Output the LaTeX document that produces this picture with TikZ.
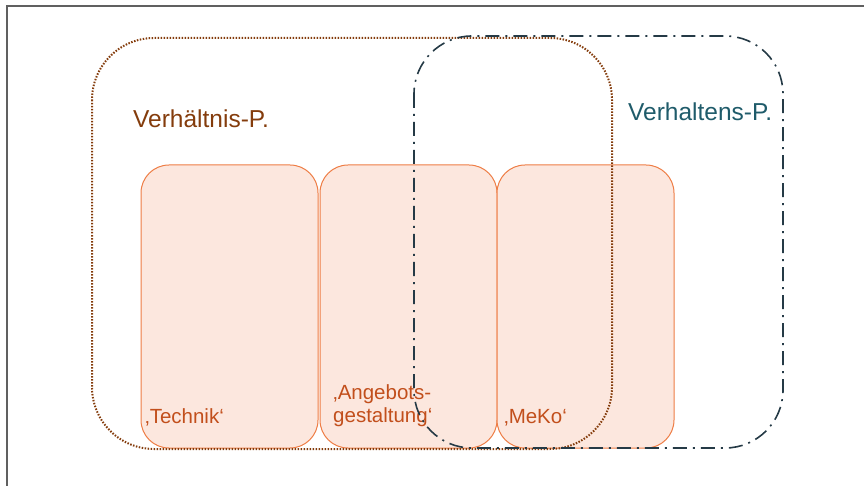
\documentclass[tikz,border=0pt]{standalone}
\usepackage{fontspec}
\setmainfont{Liberation Sans}
\usepackage{xcolor}
\usetikzlibrary{positioning}

\definecolor{rahmengrau}{HTML}{606060}
\definecolor{braun}{HTML}{843C0C}
\definecolor{petrol}{HTML}{1F5B6A}
\definecolor{schiefer}{HTML}{253A46}
\definecolor{hellorange}{HTML}{FCE7DE}
\definecolor{orangerand}{HTML}{EE7D45}
\definecolor{orangetext}{HTML}{C24F1C}

\tikzset{
	feld/.style={draw=orangerand, fill=hellorange, line width=1, rounded corners=28,
		minimum width=177, minimum height=283, inner sep=0},
	feldlabel/.style={text=orangetext, font=\fontsize{20.5}{23}\selectfont,
		inner sep=0, anchor=base west, align=left},
	titel/.style={font=\fontsize{24.5}{28}\selectfont, inner sep=0, anchor=base west}
}

\begin{document}
\begin{tikzpicture}[x=1pt,y=-1pt]
	\useasboundingbox (0,0) rectangle (864,486);
	\draw[rahmengrau, line width=2] (7,486) -- (7,6) -- (864,6);

	% die drei Felder
	\node[feld] (technik) at (229.5,306.5) {};
	\node[feld] (angebot) at (408.5,306.5) {};
	\node[feld] (meko)    at (585.5,306.5) {};

	\node[feldlabel] (technikL) at (145,423) {‚Technik‘};
	\node[feldlabel] (angebotL) at (333,422) {‚Angebots-\\gestaltung‘};
	\node[feldlabel] (mekoL)    at (504,423) {‚MeKo‘};

	\node[titel, text=braun]  (verhaeltnis) at (133,128) {Verhältnis-P.};
	\node[titel, text=petrol] (verhalten)   at (628,121) {Verhaltens-P.};

	% Verhaeltnis- und Verhaltensrahmen
	\draw[braun, line width=2, dash pattern=on 1.5pt off 1.5pt, rounded corners=62]
		(92,38) rectangle (612,449);
	\draw[schiefer, line width=1.6, dash pattern=on 14pt off 6pt on 2pt off 6pt, rounded corners=58]
		(414,36) rectangle (783,448);
\end{tikzpicture}
\end{document}
